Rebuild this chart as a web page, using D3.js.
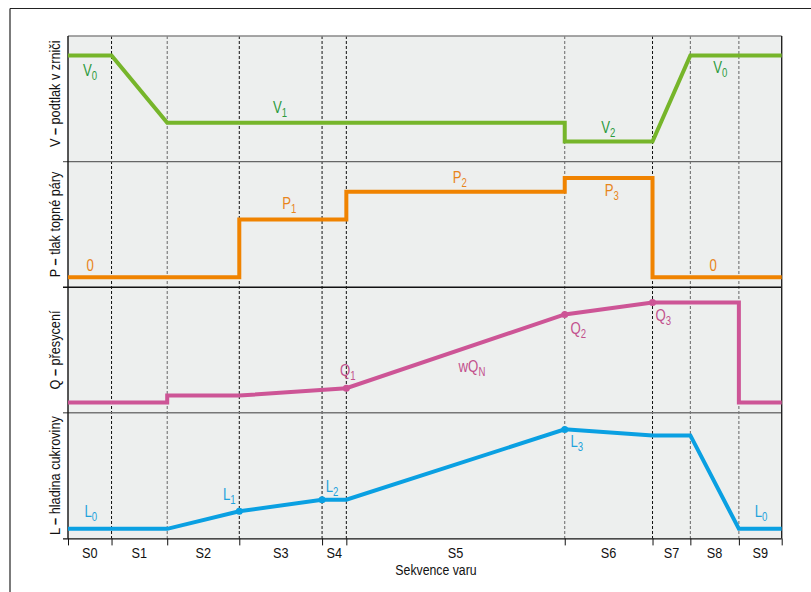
<!DOCTYPE html>
<html>
<head>
<meta charset="utf-8">
<script src="https://cdn.jsdelivr.net/npm/d3@7"></script>
<style>
  html, body { margin: 0; padding: 0; background: #fff; }
  svg { display: block; font-family: "Liberation Sans", Arial, sans-serif; }
</style>
</head>
<body>
<div id="chart"></div>
<script>
// stages of the boiling sequence and their boundaries (time, 0..100)
const stages = ["S0", "S1", "S2", "S3", "S4", "S5", "S6", "S7", "S8", "S9"];
const bounds = [0, 6.1, 13.9, 24.0, 35.6, 39.0, 69.6, 81.9, 87.2, 94.0, 100];
const greyBounds = [13.9, 69.6, 87.2, 94.0];

const panelTitles = ["V", "P", "Q", "L"];
const panelTexts = [" podtlak v zrniči", " tlak topné páry", " přesycení", " hladina cukroviny"];

// series: [time, relative value 0..1]
const vacuum = [[0, 0.845], [6.1, 0.845], [13.9, 0.31], [69.6, 0.31], [69.6, 0.16], [81.9, 0.16], [87.2, 0.845], [100, 0.845]];
const steam = [[0, 0.08], [24, 0.08], [24, 0.54], [39, 0.54], [39, 0.76], [69.6, 0.76], [69.6, 0.87], [81.9, 0.87], [81.9, 0.08], [100, 0.08]];
const supersat = [[0, 0.082], [13.9, 0.082], [13.9, 0.137], [24, 0.137], [39, 0.196], [69.6, 0.783], [81.9, 0.879], [94, 0.879], [94, 0.082], [100, 0.082]];
const level = [[0, 0.076], [13.9, 0.076], [24, 0.216], [35.6, 0.308], [39, 0.308], [69.6, 0.868], [81.9, 0.82], [87.2, 0.82], [94, 0.076], [100, 0.076]];

const supersatDots = [[39, 0.196], [69.6, 0.783], [81.9, 0.879]];
const levelDots = [[24, 0.216], [35.6, 0.308], [69.6, 0.868]];

// labels: [time, value, text, subscript]
const vacuumLabels = [[3.1, 0.73, "V", "0"], [29.7, 0.435, "V", "1"], [75.7, 0.275, "V", "2"], [91.4, 0.75, "V", "0"]];
const steamLabels = [[3.1, 0.177, "0", ""], [31.0, 0.67, "P", "1"], [54.9, 0.88, "P", "2"], [76.2, 0.774, "P", "3"], [90.4, 0.177, "0", ""]];
const supersatLabels = [[39.2, 0.341, "Q", "1"], [56.6, 0.373, "wQ", "N"], [71.5, 0.675, "Q", "2"], [83.4, 0.779, "Q", "3"]];
const levelLabels = [[3.2, 0.218, "L", "0"], [22.6, 0.354, "L", "1"], [37.0, 0.417, "L", "2"], [71.3, 0.774, "L", "3"], [97.1, 0.218, "L", "0"]];

const width = 811, height = 592;
const plotL = 68, plotR = 781.7, plotT = 36, panelH = 125.6;
const plotB = plotT + panelH * 4;
const squeeze = 0.82; // the original uses a condensed face

const svg = d3.select("#chart").append("svg")
  .attr("width", width)
  .attr("height", height);

const x = d3.scaleLinear().domain([0, 100]).range([plotL, plotR]);
const yPanel = i => d3.scaleLinear().domain([0, 1]).range([plotT + panelH * (i + 1), plotT + panelH * i]);

// outer frame (runs off the picture)
svg.append("line").attr("x1", 10).attr("x2", width).attr("y1", 8.5).attr("y2", 8.5)
  .attr("stroke", "#222").attr("stroke-width", 1.2);
svg.append("line").attr("x1", 10).attr("x2", 10).attr("y1", 8.5).attr("y2", height)
  .attr("stroke", "#222").attr("stroke-width", 1.2);

// plot background
svg.append("rect")
  .attr("x", plotL).attr("y", plotT)
  .attr("width", plotR - plotL).attr("height", plotB - plotT)
  .attr("fill", "#edefee");

// stage boundaries
const inner = bounds.slice(1, -1);
svg.append("g").selectAll("line")
  .data(inner)
  .join("line")
  .attr("x1", d => x(d)).attr("x2", d => x(d))
  .attr("y1", plotT).attr("y2", plotB)
  .attr("stroke", d => greyBounds.includes(d) ? "#666" : "#111")
  .attr("stroke-width", 1)
  .attr("stroke-dasharray", "3,2");

// panel separators
const sepColors = ["#888", "#666", "#111", "#777"];
svg.append("g").selectAll("line")
  .data(d3.range(4))
  .join("line")
  .attr("x1", d => d === 0 ? plotL : plotL - 5).attr("x2", plotR)
  .attr("y1", d => plotT + panelH * d).attr("y2", d => plotT + panelH * d)
  .attr("stroke", d => sepColors[d])
  .attr("stroke-width", 1.4);

// axes frame
svg.append("line").attr("x1", plotL).attr("x2", plotL).attr("y1", plotT).attr("y2", plotB)
  .attr("stroke", "#111").attr("stroke-width", 1.4);
svg.append("line").attr("x1", plotR).attr("x2", plotR).attr("y1", plotT).attr("y2", plotB)
  .attr("stroke", "#222").attr("stroke-width", 1.4);

const xAxis = d3.axisBottom(x).tickValues(bounds).tickSize(7).tickFormat("");
const ax = svg.append("g").attr("transform", `translate(0,${plotB})`).call(xAxis);
ax.select(".domain").attr("d", `M${plotL - 5},0.5H${plotR}`).attr("stroke", "#111").attr("stroke-width", 1.4);
ax.selectAll(".tick line").attr("stroke", "#111");

// stage names
svg.append("g").selectAll("text")
  .data(stages)
  .join("text")
  .attr("transform", (d, i) => `translate(${x((bounds[i] + bounds[i + 1]) / 2)},557.5) scale(${squeeze},1)`)
  .attr("text-anchor", "middle")
  .style("font-size", "15.5px")
  .attr("fill", "#111")
  .text(d => d);

svg.append("text")
  .attr("transform", `translate(436,575) scale(${squeeze},1)`)
  .attr("text-anchor", "middle")
  .style("font-size", "15px")
  .attr("fill", "#111")
  .text("Sekvence varu");

// panel titles
panelTitles.forEach((t, i) => {
  const cy = plotT + panelH * i + panelH / 2 - (i === 0 ? 5 : 0);
  const txt = svg.append("text")
    .attr("transform", `translate(59.5,${cy}) rotate(-90) scale(${squeeze},1)`)
    .attr("text-anchor", "middle")
    .style("font-size", "15.5px")
    .attr("fill", "#111");
  txt.append("tspan").text(t + " ");
  txt.append("tspan").attr("font-weight", "bold").text("–");
  txt.append("tspan").text(panelTexts[i]);
});

// series
const series = [
  { data: vacuum, dots: [], labels: vacuumLabels, line: "#76b52a", text: "#2e9b3e" },
  { data: steam, dots: [], labels: steamLabels, line: "#f08300", text: "#e8851a" },
  { data: supersat, dots: supersatDots, labels: supersatLabels, line: "#cd5596", text: "#c2508c" },
  { data: level, dots: levelDots, labels: levelLabels, line: "#0aa0e2", text: "#1ea2dc" }
];

series.forEach((s, i) => {
  const y = yPanel(i);
  const line = d3.line().x(d => x(d[0])).y(d => y(d[1]));
  const g = svg.append("g");

  g.append("path")
    .attr("d", line(s.data))
    .attr("fill", "none")
    .attr("stroke", s.line)
    .attr("stroke-width", 4)
    .attr("stroke-linejoin", "miter");

  g.selectAll("circle")
    .data(s.dots)
    .join("circle")
    .attr("cx", d => x(d[0])).attr("cy", d => y(d[1]))
    .attr("r", 3.5)
    .attr("fill", s.line);

  const lab = g.selectAll("text")
    .data(s.labels)
    .join("text")
    .attr("transform", d => `translate(${x(d[0])},${y(d[1]) + 6}) scale(0.8,1)`)
    .attr("text-anchor", "middle")
    .style("font-size", "16.5px")
    .attr("fill", s.text);
  lab.append("tspan").text(d => d[2]);
  lab.append("tspan")
    .attr("dy", 4)
    .style("font-size", "12px")
    .text(d => d[3]);
});
</script>
</body>
</html>
